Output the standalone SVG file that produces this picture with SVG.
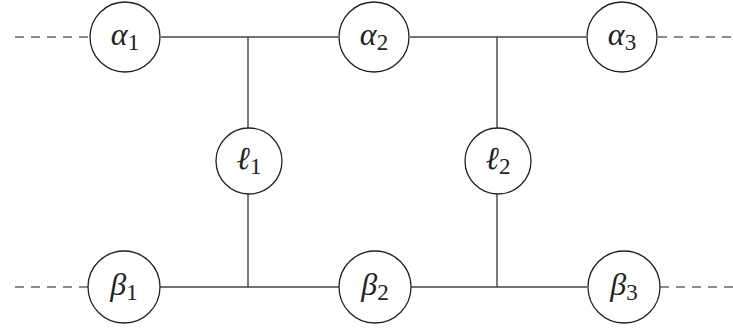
<svg xmlns="http://www.w3.org/2000/svg" width="733" height="328" viewBox="0 0 733 328">
<style>
.n{fill:#fff;stroke:#222;stroke-width:1.3}
.e{stroke:#444;stroke-width:1.4;fill:none}
.d{stroke:#666;stroke-width:1.4;fill:none;stroke-dasharray:9 7}
.t{font-family:"Liberation Serif","DejaVu Serif",serif;font-size:32px;font-style:italic;fill:#222;text-anchor:middle}
.s{font-style:normal;font-size:23px}
</style>
<rect width="733" height="328" fill="#fff"/>
<g id="connectors">
<path class="d" d="M15 37H89"/>
<path class="d" d="M658 37H733"/>
<path class="d" d="M15 287H88"/>
<path class="d" d="M660 287H733"/>
<path class="e" d="M161 37H338M410 37H586"/>
<path class="e" d="M160 287H339M411 287H587"/>
<path class="e" d="M248 37V128M248 194V287"/>
<path class="e" d="M497 37V128M497 194V287"/>
</g>
<g id="alpha1"><circle class="n" cx="125" cy="37" r="35"/><text class="t" x="125" y="45">α<tspan class="s" dy="5">1</tspan></text></g>
<g id="alpha2"><circle class="n" cx="374" cy="37" r="35"/><text class="t" x="374" y="45">α<tspan class="s" dy="5">2</tspan></text></g>
<g id="alpha3"><circle class="n" cx="622" cy="37" r="35"/><text class="t" x="622" y="45">α<tspan class="s" dy="5">3</tspan></text></g>
<g id="ell1"><circle class="n" cx="249" cy="161" r="33"/><text class="t" x="249" y="169">ℓ<tspan class="s" dy="5">1</tspan></text></g>
<g id="ell2"><circle class="n" cx="498" cy="161" r="33"/><text class="t" x="498" y="169">ℓ<tspan class="s" dy="5">2</tspan></text></g>
<g id="beta1"><circle class="n" cx="124" cy="287" r="36"/><text class="t" x="124" y="295">β<tspan class="s" dy="5">1</tspan></text></g>
<g id="beta2"><circle class="n" cx="375" cy="287" r="36"/><text class="t" x="375" y="295">β<tspan class="s" dy="5">2</tspan></text></g>
<g id="beta3"><circle class="n" cx="624" cy="287" r="36"/><text class="t" x="624" y="295">β<tspan class="s" dy="5">3</tspan></text></g>
</svg>
